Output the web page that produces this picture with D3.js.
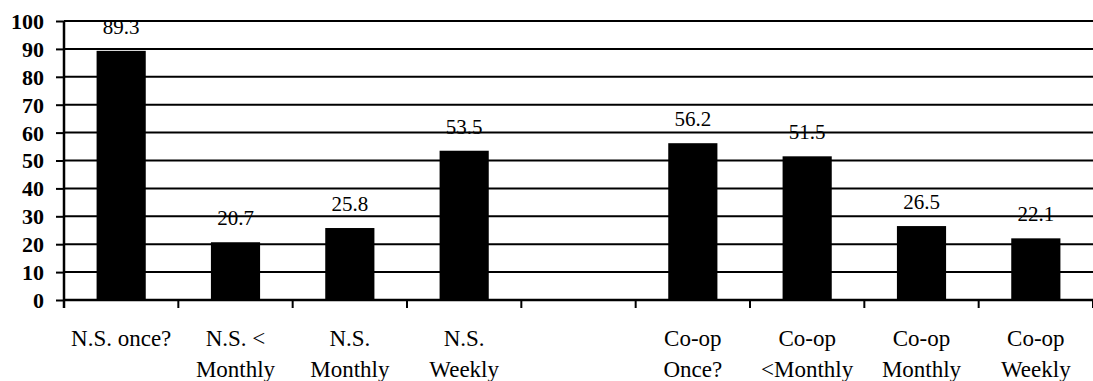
<!DOCTYPE html>
<html>
<head>
<meta charset="utf-8">
<script src="https://cdn.jsdelivr.net/npm/d3@7"></script>
<style>
  html, body { margin: 0; padding: 0; background: #fff; }
  svg { display: block; }
  svg text { font-family: "Liberation Serif", "Times New Roman", Times, "DejaVu Serif", serif; fill: #000; }
</style>
</head>
<body>
<svg id="chart" width="1093" height="381"></svg>
<script>
// ---- data ----
const categoryLine1 = ["N.S. once?", "N.S. <", "N.S.", "N.S.", "", "Co-op", "Co-op", "Co-op", "Co-op"];
const categoryLine2 = ["", "Monthly", "Monthly", "Weekly", "", "Once?", "<Monthly", "Monthly", "Weekly"];
const values = [89.3, 20.7, 25.8, 53.5, null, 56.2, 51.5, 26.5, 22.1];
const valueLabels = ["89.3", "20.7", "25.8", "53.5", "", "56.2", "51.5", "26.5", "22.1"];
const yTicks = [0, 10, 20, 30, 40, 50, 60, 70, 80, 90, 100];

(function () {
// ---- layout ----
const mLeft = 64, mRight = 1093, mTop = 21, mBottom = 300;
const svg = d3.select("#chart");

const idx = d3.range(values.length);
const x = d3.scaleBand().domain(idx).range([mLeft, mRight]).paddingInner(0.57).paddingOuter(0.285);
const xStep = (mRight - mLeft) / values.length;
const y = d3.scaleLinear().domain([0, 100]).range([mBottom, mTop]);

// gridlines
svg.append("g").selectAll("line").data(yTicks.filter(d => d > 0)).join("line")
  .attr("x1", mLeft).attr("x2", mRight)
  .attr("y1", d => y(d)).attr("y2", d => y(d))
  .attr("stroke", "#000").attr("stroke-width", 2);

// bars
svg.append("g").selectAll("rect").data(idx.filter(i => values[i] != null)).join("rect")
  .attr("x", i => x(i)).attr("width", x.bandwidth())
  .attr("y", i => y(values[i])).attr("height", i => y(0) - y(values[i]))
  .attr("fill", "#000");

// y axis
const yAxis = d3.axisLeft(y).tickValues(yTicks).tickSize(8).tickPadding(12).tickFormat(d3.format("d"));
const gy = svg.append("g").attr("transform", `translate(${mLeft},0)`).call(yAxis);
gy.attr("font-family", null).attr("font-size", null);
gy.select(".domain").attr("stroke", "#000").attr("stroke-width", 2.5).attr("d", `M0,${mTop}V${mBottom + 8}`);
gy.selectAll(".tick line").attr("stroke", "#000").attr("stroke-width", 2);
gy.selectAll(".tick text")
  .style("font-weight", "bold").style("font-size", "22px")
  .attr("dy", "0.34em");

// x axis baseline and tick marks at category boundaries
const boundaries = d3.range(values.length + 1).map(i => mLeft + i * xStep);
svg.append("line").attr("x1", mLeft).attr("x2", mRight).attr("y1", mBottom).attr("y2", mBottom)
  .attr("stroke", "#000").attr("stroke-width", 2.5);
svg.append("g").selectAll("line").data(boundaries.slice(1)).join("line")
  .attr("x1", d => d).attr("x2", d => d).attr("y1", mBottom).attr("y2", mBottom + 8)
  .attr("stroke", "#000").attr("stroke-width", 2);

// value labels
svg.append("g").selectAll("text").data(idx.filter(i => values[i] != null)).join("text")
  .attr("x", i => x(i) + x.bandwidth() / 2)
  .attr("y", i => y(values[i]) - 17)
  .attr("text-anchor", "middle")
  .style("font-size", "21px")
  .text(i => valueLabels[i]);

// category labels
const cat = svg.append("g").selectAll("text").data(idx).join("text")
  .attr("text-anchor", "middle")
  .style("font-size", "23px");
cat.append("tspan").attr("x", i => x(i) + x.bandwidth() / 2).attr("y", 346).text(i => categoryLine1[i]);
cat.append("tspan").attr("x", i => x(i) + x.bandwidth() / 2).attr("y", 377).text(i => categoryLine2[i]);
})();
</script>
</body>
</html>
